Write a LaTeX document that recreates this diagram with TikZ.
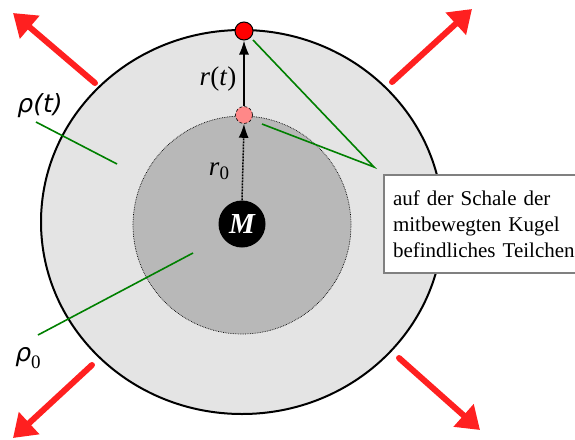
\documentclass[tikz,border=0pt]{standalone}
\usepackage{fontspec}
\newfontfamily\tnr{Liberation Serif}
\newfontfamily\dvs{DejaVu Sans}
\usetikzlibrary{arrows.meta,shapes.geometric}
\definecolor{outergray}{RGB}{228,228,228}
\definecolor{innergray}{RGB}{184,184,184}
\definecolor{arrowred}{RGB}{255,32,32}
\definecolor{pinkdot}{RGB}{255,136,136}
\definecolor{greenline}{RGB}{0,128,0}
\definecolor{boxgray}{RGB}{128,128,128}
\begin{document}
\begin{tikzpicture}[x=1pt,y=-1pt,
  redarrow/.style={draw=arrowred, line width=6pt, line cap=round,
    -{Triangle[length=22pt,width=29pt]}},
  blackarrow/.style={draw=black, line width=1.5pt,
    -{Latex[length=14pt,width=10pt]}},
  greenstroke/.style={draw=greenline, line width=1.6pt},
  label/.style={inner sep=0pt, font=\tnr\fontsize{27}{30}\selectfont},
]
\useasboundingbox (0,0) rectangle (575,439);
\clip (0,0) rectangle (575,439);
\fill[white] (0,0) rectangle (575,439);

% spheres
\node[ellipse, draw=black, line width=2pt, fill=outergray, inner sep=0pt,
      minimum width=402pt, minimum height=384pt] (outer) at (242,222) {};
\node[circle, draw=black, line width=0.7pt, densely dotted, fill=innergray, inner sep=0pt,
      minimum size=218pt] (inner) at (242,225) {};

% mass
\node[circle, fill=black, inner sep=0pt, minimum size=47pt, text=white,
      font=\tnr\bfseries\itshape\fontsize{29}{30}\selectfont] (M) at (242,224) {M};

% particles
\node[circle, draw=black, line width=0.6pt, densely dashed, fill=pinkdot, inner sep=0pt,
      minimum size=17pt] (pink) at (244,115) {};
\node[circle, draw=black, line width=1pt, fill=red, inner sep=0pt,
      minimum size=18pt] (reddot) at (244,31) {};

% radius arrows
\draw[blackarrow, dash pattern=on 2pt off 1pt] (M.north) -- (pink.south);
\draw[blackarrow] (pink.north) -- (reddot.south);

% labels
\node[label] (rt) at (218,79) {\textit{r}(\textit{t})};
\node[label] (r0) at (219,171) {\textit{r}\raisebox{-0.3ex}{\fontsize{19}{19}\selectfont 0}};
\node[label, font=\dvs\itshape\fontsize{25}{28}\selectfont] (rhot) at (40,106) {ρ(t)};
\node[label] (rho0) at (28,358) {{\dvs\itshape\fontsize{25}{28}\selectfont ρ}\raisebox{-0.5ex}{\fontsize{19}{19}\selectfont 0}};

% green callout lines
\coordinate (gA1) at (36,122);
\coordinate (gA2) at (117,164);
\coordinate (gB1) at (38,335);
\coordinate (gB2) at (193,253);
\coordinate (gC1) at (253,40);
\coordinate (apex) at (374,167);
\coordinate (gC2) at (262,124);
\draw[greenstroke] (gA1) -- (gA2);
\draw[greenstroke] (gB1) -- (gB2);
\draw[greenstroke, line join=miter] (gC1) -- (apex) -- (gC2);

% text box (runs off the right edge)
\node[draw=boxgray, line width=2pt, fill=white, anchor=north west,
      minimum height=98pt, text width=230pt,
      inner xsep=9pt, inner ysep=0pt,
      align=left, font=\tnr\fontsize{21}{26}\selectfont] (box) at (383,174)
  {auf der Schale der\\mitbewegten Kugel\\befindliches Teilchen};

% red expansion arrows
\coordinate (ulT) at (95,83);  \coordinate (ulH) at (13,13);
\coordinate (urT) at (392,82); \coordinate (urH) at (472,9);
\coordinate (llT) at (92,365); \coordinate (llH) at (13,438);
\coordinate (lrT) at (399,358);\coordinate (lrH) at (480,430);
\draw[redarrow] (ulT) -- (ulH);
\draw[redarrow] (urT) -- (urH);
\draw[redarrow] (llT) -- (llH);
\draw[redarrow] (lrT) -- (lrH);
\end{tikzpicture}
\end{document}
